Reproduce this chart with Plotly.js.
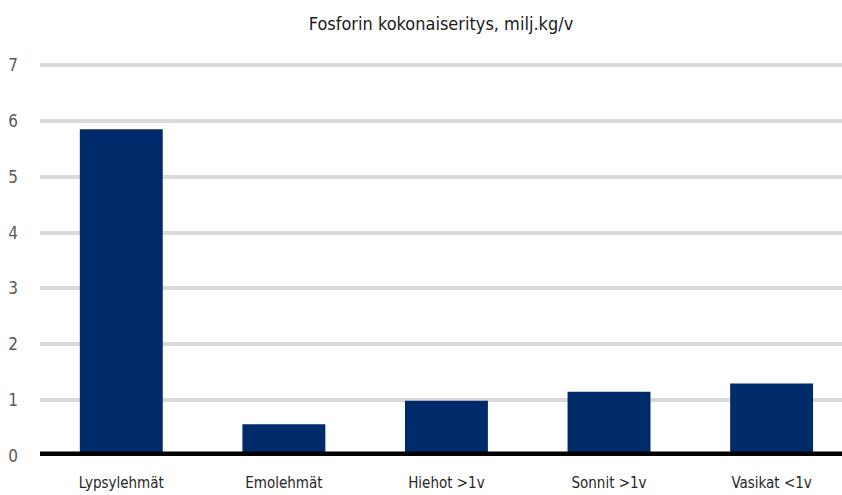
<!DOCTYPE html>
<html>
<head>
<meta charset="utf-8">
<script src="https://cdn.plot.ly/plotly-3.0.1.min.js"></script>
<style>
  html, body { margin: 0; padding: 0; background: #fff; overflow: hidden; }
  #chart { width: 842px; height: 495px; }
  /* narrow letterforms for every label */
  #chart text { font-stretch: condensed; }
</style>
</head>
<body>
<div id="chart"></div>
<script>
// Phosphorus excretion by cattle group, million kg per year
const categories = ['Lypsylehmät', 'Emolehmät', 'Hiehot >1v', 'Sonnit >1v', 'Vasikat <1v'];
const values = [5.85, 0.57, 0.99, 1.15, 1.30];
const yTicks = [0, 1, 2, 3, 4, 5, 6, 7];

const FONT = '"DejaVu Sans Condensed", "DejaVu Sans", sans-serif';

const trace = {
  type: 'bar',
  x: categories,
  y: values,
  marker: { color: '#002b6b', line: { width: 0 } },
  hoverinfo: 'x+y'
};

const layout = {
  width: 842,
  height: 495,
  margin: { l: 40, r: 0, t: 64, b: 39 },
  paper_bgcolor: '#ffffff',
  plot_bgcolor: '#ffffff',
  bargap: 0.49,
  showlegend: false,
  title: {
    text: 'Fosforin kokonaiseritys, milj.kg/v',
    font: { family: FONT, size: 18, color: '#1a1a1a' },
    x: 0.5, xref: 'paper', xanchor: 'center',
    y: 0.953, yref: 'container', yanchor: 'middle'
  },
  xaxis: {
    type: 'category',
    range: [-0.5, 4.433],
    showgrid: false,
    zeroline: false,
    showline: false,
    ticks: '',
    ticklabelstandoff: 16,
    tickfont: { family: FONT, size: 15, color: '#262626' }
  },
  yaxis: {
    range: [0, 7.02],
    tickvals: yTicks,
    ticktext: yTicks.map(String),
    showgrid: true,
    gridcolor: '#d9d9d9',
    gridwidth: 4,
    zeroline: false,
    showline: false,
    ticks: '',
    ticklabelstandoff: 21,
    tickfont: { family: FONT, size: 17, color: '#595959' },
    fixedrange: true
  },
  shapes: [{
    type: 'line',
    xref: 'paper', yref: 'y',
    x0: 0, x1: 1, y0: 0, y1: 0,
    line: { color: '#000000', width: 9 },
    layer: 'above'
  }]
};

Plotly.newPlot('chart', [trace], layout, { displayModeBar: false, staticPlot: true });
</script>
</body>
</html>
